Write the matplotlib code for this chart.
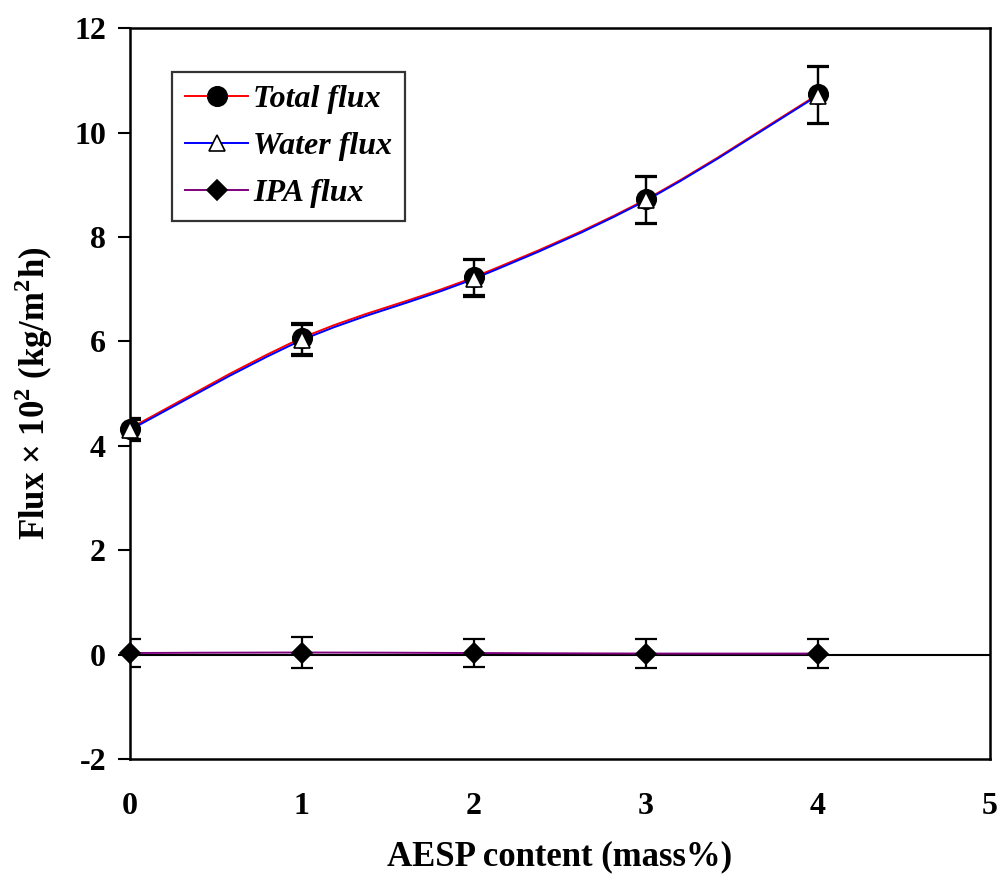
import numpy as np
import matplotlib.pyplot as plt
from matplotlib.path import Path
from matplotlib.patches import PathPatch
from matplotlib.lines import Line2D

plt.rcParams['font.family'] = ['Liberation Serif', 'DejaVu Serif']
plt.rcParams['font.weight'] = 'bold'
plt.rcParams['axes.unicode_minus'] = False

# AESP content (mass%)
aesp = [0, 1, 2, 3, 4]

# flux x 10^2 (kg/m2h)
total_flux = [4.33, 6.06, 7.23, 8.72, 10.73]
ipa_flux = [0.03, 0.04, 0.03, 0.02, 0.02]
water_flux = [t - i for t, i in zip(total_flux, ipa_flux)]

total_err = [0.20, 0.30, 0.35, 0.45, 0.55]
water_err = [0.20, 0.30, 0.35, 0.45, 0.55]
ipa_err = [0.27, 0.30, 0.27, 0.27, 0.27]


def smooth_path(x, y):
    # excel-style smoothed line: cubic bezier through every point
    x = np.asarray(x, float)
    y = np.asarray(y, float)
    n = len(x)
    verts = [(x[0], y[0])]
    codes = [Path.MOVETO]
    for i in range(n - 1):
        p0 = np.array([x[max(i - 1, 0)], y[max(i - 1, 0)]])
        p1 = np.array([x[i], y[i]])
        p2 = np.array([x[i + 1], y[i + 1]])
        p3 = np.array([x[min(i + 2, n - 1)], y[min(i + 2, n - 1)]])
        c1 = p1 + (p2 - p0) / 6
        c2 = p2 - (p3 - p1) / 6
        verts += [tuple(c1), tuple(c2), tuple(p2)]
        codes += [Path.CURVE4] * 3
    return Path(verts, codes)


fig = plt.figure(figsize=(10.05, 8.8), dpi=100)
ax = fig.add_axes([0.129, 0.1375, 0.856, 0.8305])

ax.set_xlim(0, 5)
ax.set_ylim(-2, 12)
ax.axhline(0, color='black', lw=1.5, zorder=1)

series = [
    (total_flux, total_err, 'red', 'o', 'black', 'Total flux'),
    (water_flux, water_err, 'blue', '^', 'white', 'Water flux'),
    (ipa_flux, ipa_err, 'purple', 'D', 'black', 'IPA flux'),
]

handles = []
for vals, err, col, mk, face, name in series:
    ax.add_patch(PathPatch(smooth_path(aesp, vals), facecolor='none',
                           edgecolor=col, lw=1.4, zorder=2))
    ax.errorbar(aesp, vals, yerr=err, fmt='none', ecolor='black',
                elinewidth=1.6, capsize=8, capthick=1.6, zorder=3)
    ms = {'o': 14, '^': 12, 'D': 10}[mk]
    ax.plot(aesp, vals, linestyle='none', marker=mk, markersize=ms,
            markerfacecolor=face, markeredgecolor='black', markeredgewidth=1.2,
            zorder=4, clip_on=False)
    handles.append(Line2D([], [], color=col, lw=1.4, marker=mk, markersize=ms,
                          markerfacecolor=face, markeredgecolor='black',
                          markeredgewidth=1.2, label=name))

ax.set_xticks(range(0, 6))
ax.set_yticks(range(-2, 13, 2))
ax.tick_params(axis='x', length=0, pad=24, labelsize=23)
ax.tick_params(axis='y', direction='out', length=9, width=1.5, pad=8, labelsize=23)
for lbl in ax.get_xticklabels() + ax.get_yticklabels():
    lbl.set_fontweight('bold')

for sp in ax.spines.values():
    sp.set_linewidth(1.8)

ax.set_xlabel('AESP content (mass%)', fontsize=25, fontweight='bold', labelpad=14)
ax.set_ylabel('Flux × 10$^\\mathregular{2}$ (kg/m$^\\mathregular{2}$h)', fontsize=25,
              fontweight='bold', labelpad=14)

leg = ax.legend(handles=handles, loc='upper left', bbox_to_anchor=(0.049, 0.94),
                prop={'size': 23, 'weight': 'bold', 'style': 'italic'},
                frameon=True, fancybox=False, edgecolor='black',
                handlelength=2.0, handletextpad=0.15, labelspacing=0.55,
                borderpad=0.4, borderaxespad=0)
leg.get_frame().set_linewidth(1.6)

fig.savefig('out.png', dpi=100)
